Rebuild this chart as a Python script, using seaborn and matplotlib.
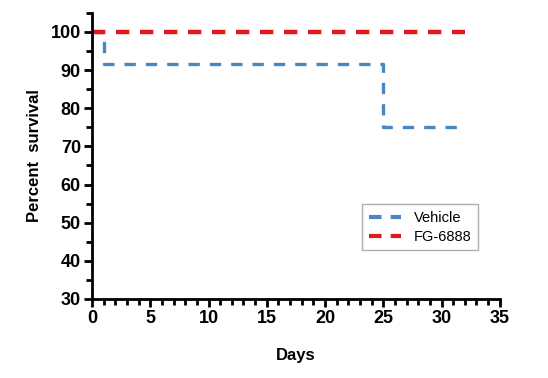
import pandas as pd
import matplotlib.pyplot as plt
import seaborn as sns
from matplotlib.ticker import MultipleLocator

# survival curves (step data)
vehicle_days = [0, 1, 25, 32]
vehicle_surv = [100, 91.7, 75, 75]
fg_days = [0, 32]
fg_surv = [100, 100]

df = pd.concat([
    pd.DataFrame({"Days": vehicle_days, "Survival": vehicle_surv, "Group": "Vehicle"}),
    pd.DataFrame({"Days": fg_days, "Survival": fg_surv, "Group": "FG-6888"}),
])

sns.set_style("ticks")
plt.rcParams['font.family'] = ['Liberation Sans', 'DejaVu Sans']
plt.rcParams['text.color'] = 'black'
plt.rcParams['axes.labelcolor'] = 'black'
plt.rcParams['xtick.color'] = 'black'
plt.rcParams['ytick.color'] = 'black'
plt.rcParams['axes.edgecolor'] = 'black'

fig = plt.figure(figsize=(5.48, 3.78), dpi=100)
ax = fig.add_axes([0.168, 0.209, 0.744, 0.757])

sns.lineplot(data=df, x="Days", y="Survival", hue="Group",
             palette={"Vehicle": "#4a86c5", "FG-6888": "#e0191c"},
             drawstyle="steps-post", linewidth=2.4, ax=ax,
             estimator=None, sort=False)
ax.lines[0].set_dashes([3.4, 3.0])
ax.lines[1].set_linewidth(3.2)
ax.lines[1].set_dashes([3.0, 2.4])

ax.set_xlim(0, 35)
ax.set_ylim(30, 105)
ax.set_xticks(range(0, 36, 5))
ax.set_yticks(range(30, 101, 10))
ax.xaxis.set_minor_locator(MultipleLocator(1))
ax.yaxis.set_minor_locator(MultipleLocator(5))
sns.despine(ax=ax)
for s in ["left", "bottom"]:
    ax.spines[s].set_linewidth(2)
ax.tick_params(axis='both', which='major', width=2, length=6, labelsize=13, pad=2)
ax.tick_params(axis='both', which='minor', width=2, length=4)
for lbl in ax.get_xticklabels() + ax.get_yticklabels():
    lbl.set_fontweight('bold')

ax.set_xlabel("Days", fontsize=12, fontweight='bold', labelpad=15)
ax.set_ylabel("Percent  survival", fontsize=12, fontweight='bold', labelpad=6)

leg = ax.legend(loc='upper left', bbox_to_anchor=(0.645, 0.357), fontsize=10.5,
                frameon=True, fancybox=False, edgecolor='#999999',
                handlelength=2.2, borderpad=0.45, labelspacing=0.35,
                handletextpad=0.9)
leg.get_frame().set_linewidth(1)
for h in leg.get_lines():
    h.set_linewidth(3)
    h.set_dashes([3.0, 2.2])

fig.savefig("out.png", dpi=100)
